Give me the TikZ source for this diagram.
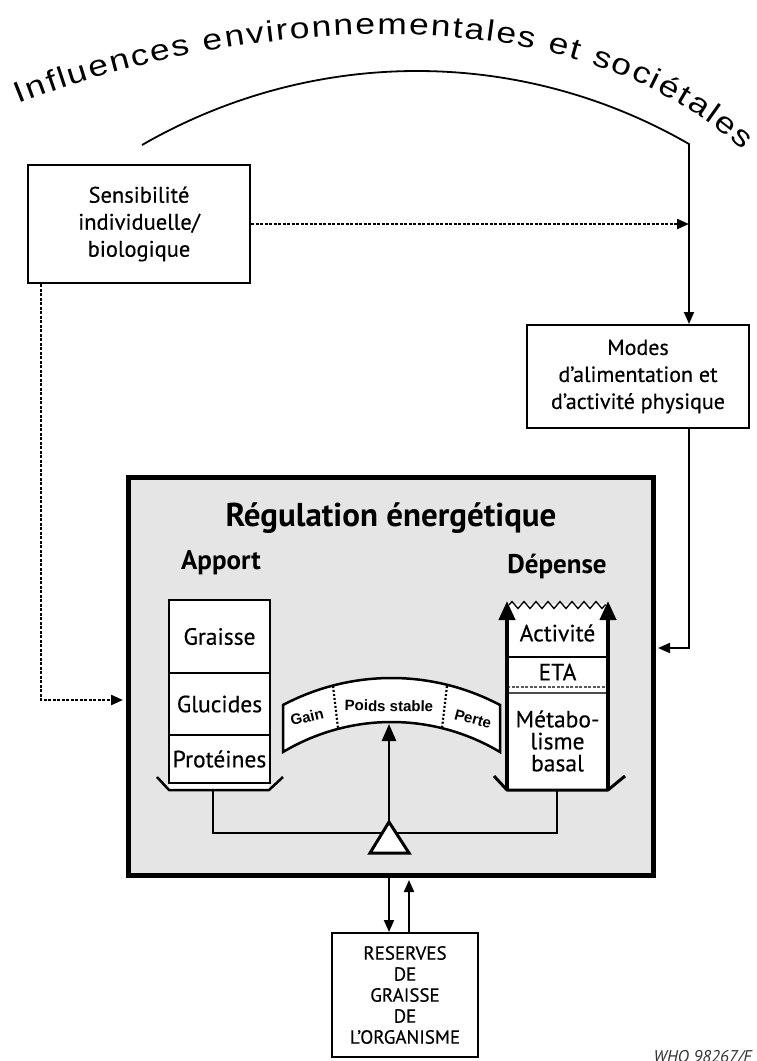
\documentclass[tikz,border=0pt]{standalone}
\usepackage{fontspec}
\setmainfont{PT Sans}[UprightFeatures={FakeBold=0.35}]
\newfontfamily\titlefont[FakeStretch=1.2]{Liberation Sans}
\newfontfamily\bandfont{Liberation Sans}
\usetikzlibrary{arrows.meta,decorations.text,decorations.pathmorphing}
\begin{document}
\begin{tikzpicture}[x=1pt,y=-1pt,
  box/.style={draw, line width=2pt, fill=white, align=center, inner sep=0pt},
  conn/.style={line width=2pt, -{Triangle[length=12pt,width=10pt]}},
  dotconn/.style={line width=2.2pt, dash pattern=on 3pt off 1.5pt, -{Triangle[length=12pt,width=10pt]}},
  cell/.style={draw, line width=2pt, fill=white, inner sep=0pt, align=center, font=\fontsize{23.5}{24}\selectfont},
  lbl/.style={inner sep=0pt, align=center},
  bandtxt/.style={inner sep=0pt, font=\bandfont\bfseries\fontsize{15}{15}\selectfont}
]
\useasboundingbox (0,0) rectangle (756,1061);
\fill[white] (0,0) rectangle (756,1061);

% title along arc
\path[decorate, decoration={text along path, text align=fit to path,
  text={|\titlefont\fontsize{29.5}{31}\selectfont|Influences environnementales et sociétales}}]
  (19,104) .. controls (172,42) and (540,-34) .. (742,150);

% boxes
\node[box, minimum width=222pt, minimum height=118pt, font=\fontsize{22.5}{27}\selectfont] (sens) at (139,224) {Sensibilité\\individuelle/\\biologique};
\node[box, minimum width=222pt, minimum height=103pt, font=\fontsize{22}{27}\selectfont] (modes) at (638,376.5) {Modes\\d’alimentation et\\d’activité physique};
\node[draw, line width=5pt, fill=gray!20, minimum width=525pt, minimum height=398pt] (reg) at (390.5,676) {};
\node[box, minimum width=146pt, minimum height=124pt, font=\fontsize{19}{21}\selectfont] (res) at (405,995) {RESERVES\\DE\\GRAISSE\\DE\\L’ORGANISME};

% connectors outside
\coordinate (arcS) at (142,145);
\coordinate (arcE) at (689,144);
\draw[conn, line width=1.8pt] (arcS) .. controls (312,47) and (519,46) .. (arcE) -- (arcE |- modes.north);
\draw[dotconn] (sens.east) -- (sens.east -| arcE);
\coordinate (sensD) at ([xshift=14pt]sens.south west);
\coordinate (leftIn) at (0,700);
\draw[dotconn, shorten >=2.5pt] (sensD) |- (reg.west |- leftIn);
\coordinate (rightIn) at (0,648);
\draw[conn, shorten >=2.5pt] (modes.south -| arcE) |- (reg.east |- rightIn);
\coordinate (downX) at (389,0);
\coordinate (upX) at (409,0);
\draw[conn] (reg.south -| downX) -- (res.north -| downX);
\draw[conn, shorten >=2.5pt] (res.north -| upX) -- (reg.south -| upX);

% inside texts
\node[lbl, font=\bfseries\fontsize{33}{35}\selectfont] (regtitle) at (391,518) {Régulation énergétique};
\node[lbl, font=\bfseries\fontsize{27}{29}\selectfont] (apport) at (221,563) {Apport};
\node[lbl, font=\bfseries\fontsize{27}{29}\selectfont] (depense) at (557,566) {Dépense};

% apport stack
\node[cell, minimum width=101pt, minimum height=73pt] (graisse) at (219.5,636.5) {Graisse};
\node[cell, minimum width=101pt, minimum height=62pt] (gluc) at (219.5,704) {Glucides};
\node[cell, minimum width=101pt, minimum height=48pt] (prot) at (219.5,759) {Protéines};
\fill[white] (169,784) rectangle (269,790);
\draw[line width=2.5pt, line join=round] (157,777) -- (169,790) -- (269,790) -- (283,777);

% depense stack
\fill[white] (507,604) rectangle (608,790);
\draw[line width=1.3pt, decorate, decoration={zigzag, segment length=12pt, amplitude=3.5pt}] (509,605) -- (606,605);
\draw[line width=1.5pt] (507,657) -- (608,657);
\draw[line width=1.2pt, dash pattern=on 3pt off 1.5pt, gray!70!black] (507,687) -- (608,687);
\draw[line width=1.5pt, gray!60!black] (507,693) -- (608,693);
\node[lbl, font=\fontsize{23.5}{24}\selectfont] (activ) at (557.5,633) {Activité};
\node[lbl, font=\fontsize{23.5}{24}\selectfont] (eta) at (557.5,672) {ETA};
\node[lbl, font=\fontsize{23.5}{22}\selectfont] (metab) at (557.5,741) {Métabo-\\lisme\\basal};
\draw[line width=4pt, -{Triangle[length=19pt,width=16pt]}] (507,790) -- (507,601);
\draw[line width=4pt, -{Triangle[length=19pt,width=16pt]}] (608,790) -- (608,601);
\draw[line width=3pt, line join=round] (494,776) -- (507,790) -- (608,790) -- (625,776);

% beam
\coordinate (trayL) at (213,790);
\coordinate (beamL) at (213,833);
\coordinate (beamR) at (557,833);
\coordinate (trayR) at (557,790);
\draw[line width=2.5pt] (trayL) -- (beamL) -- (beamR) -- (trayR);

% scale band
\draw[line width=2.5pt, fill=white] (283,705) .. controls (351,669) and (432,669) .. (500,705) -- (500,752) .. controls (433,712) and (350,712) .. (283,752) -- cycle;
\draw[line width=2.2pt, dash pattern=on 2pt off 2pt] (333,686) -- (338,728);
\draw[line width=2.2pt, dash pattern=on 2pt off 2pt] (447,686) -- (442,728);
\node[bandtxt, rotate=13] (gain) at (307,717) {Gain};
\node[bandtxt, rotate=-1] (poids) at (389,706) {Poids stable};
\node[bandtxt, rotate=-15] (perte) at (473,719) {Perte};

% needle and fulcrum
\coordinate (fulcrum) at (389,822);
\coordinate (needle) at (389,724);
\draw[line width=2.5pt, -{Triangle[length=17pt,width=14pt]}] (fulcrum) -- (needle);
\draw[line width=3pt, fill=white, line join=miter] (fulcrum) -- (409,853) -- (370,853) -- cycle;

% label
\node[anchor=base east, inner sep=0pt, font=\itshape\fontsize{17}{17}\selectfont, text=black!80] (who) at (752,1062) {WHO 98267/F};
\end{tikzpicture}
\end{document}
